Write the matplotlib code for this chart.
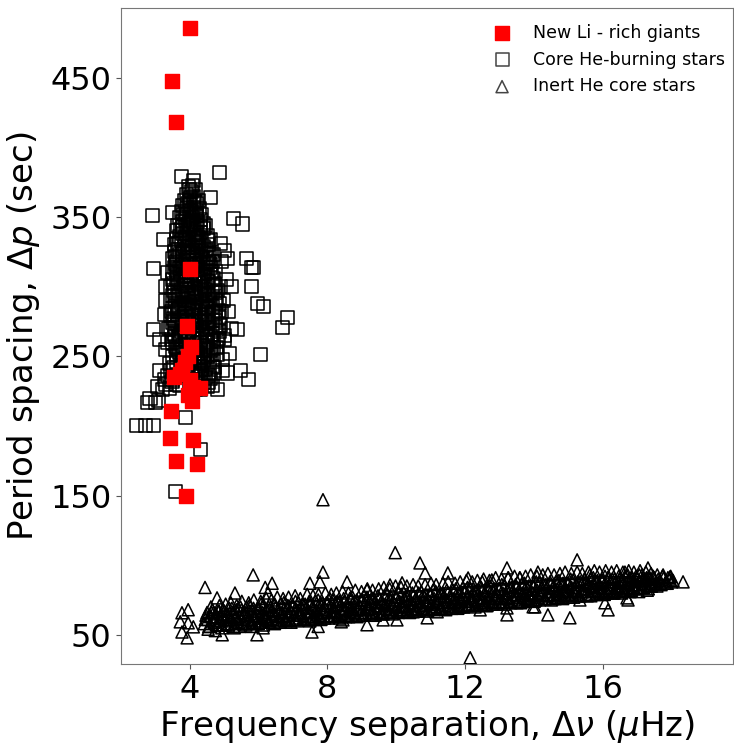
import matplotlib
matplotlib.use("Agg")
import matplotlib.pyplot as plt

# New Li-rich giants (red filled squares)
li_dnu = [4.0, 3.48, 3.6, 4.0, 3.92, 4.02, 3.95, 3.85, 3.78, 3.55, 4.1, 4.3,
          3.95, 4.05, 3.45, 3.42, 4.1, 3.6, 4.22, 3.9, 3.7, 4.0]
li_dp = [486, 448, 418, 313, 272, 257, 250, 246, 240, 235, 228, 227,
         222, 218, 211, 191, 190, 175, 173, 150, 237, 233]

# Core He-burning stars (hollow squares)
clump_dnu = [
    3.95, 4.05, 4.1, 3.9, 4.15, 4.0, 3.77, 4.85, 4.1, 4.2,
    3.8, 3.9, 4.0, 4.1, 4.2, 4.25, 3.85, 4.05,
    3.7, 3.8, 3.9, 4.0, 4.1, 4.2, 4.3, 4.4, 3.75, 3.95, 4.15, 4.35,
    3.6, 3.7, 3.8, 3.9, 4.0, 4.1, 4.2, 4.3, 4.4, 4.5, 3.65, 3.85, 4.05, 4.25, 4.45,
    3.55, 3.65, 3.75, 3.85, 3.95, 4.05, 4.15, 4.25, 4.35, 4.45, 4.55, 4.6, 3.6, 3.8, 4.0, 4.2, 4.4,
    3.5, 3.6, 3.7, 3.8, 3.9, 4.0, 4.1, 4.2, 4.3, 4.4, 4.5, 4.6, 4.7, 3.55, 3.75, 3.95, 4.15, 4.35, 4.55,
    3.5, 3.6, 3.7, 3.8, 3.9, 4.0, 4.1, 4.2, 4.3, 4.4, 4.5, 4.6, 4.7, 4.75, 3.55, 3.65, 3.85, 4.05, 4.25, 4.45,
    3.45, 3.55, 3.65, 3.75, 3.85, 3.95, 4.05, 4.15, 4.25, 4.35, 4.45, 4.55, 4.65, 4.75, 4.8, 3.5, 3.7, 3.9, 4.1, 4.3, 4.5,
    3.45, 3.55, 3.65, 3.75, 3.85, 3.95, 4.05, 4.15, 4.25, 4.35, 4.45, 4.55, 4.65, 4.75, 4.85, 3.5, 3.7, 3.9, 4.1, 4.3, 4.5,
    3.45, 3.55, 3.65, 3.75, 3.85, 3.95, 4.05, 4.15, 4.25, 4.35, 4.45, 4.55, 4.65, 4.75, 4.85, 3.5, 3.7, 3.9, 4.1, 4.3, 4.5,
    3.45, 3.55, 3.65, 3.75, 3.85, 3.95, 4.05, 4.15, 4.25, 4.35, 4.45, 4.55, 4.65, 4.75, 4.85, 3.5, 3.7, 3.9, 4.1, 4.3, 4.5,
    3.5, 3.6, 3.7, 3.8, 3.9, 4.0, 4.1, 4.2, 4.3, 4.4, 4.5, 4.6, 4.7, 4.8, 3.55, 3.75, 3.95, 4.15, 4.35, 4.55,
    3.5, 3.6, 3.7, 3.8, 3.9, 4.0, 4.1, 4.2, 4.3, 4.4, 4.5, 4.6, 4.7, 4.8, 4.25, 4.45, 3.65, 4.05,
    3.45, 3.6, 3.75, 3.9, 4.05, 4.15, 4.25, 4.35, 4.45, 4.55, 4.65, 4.7, 4.2, 4.4,
    3.3, 3.4, 3.5, 3.7, 4.2, 4.3, 4.4, 4.5, 4.6, 3.2, 3.6,
    # second pass through the dense core
    3.92, 4.02, 4.12, 3.98, 4.08,
    3.72, 3.82, 3.92, 4.02, 4.12, 4.22, 4.32, 3.88, 4.08, 4.28, 3.78, 4.18,
    3.58, 3.68, 3.78, 3.88, 3.98, 4.08, 4.18, 4.28, 4.38, 4.48, 4.58, 3.63, 3.93, 4.23, 4.53,
    3.52, 3.62, 3.72, 3.82, 3.92, 4.02, 4.12, 4.22, 4.32, 4.42, 4.52, 4.62, 4.72, 3.57, 3.87, 4.17, 4.47, 4.67,
    3.48, 3.58, 3.68, 3.78, 3.88, 3.98, 4.08, 4.18, 4.28, 4.38, 4.48, 4.58, 4.68, 4.78, 3.53, 3.83, 4.13, 4.43, 4.73, 4.83,
    3.48, 3.58, 3.68, 3.78, 3.88, 3.98, 4.08, 4.18, 4.28, 4.38, 4.48, 4.58, 4.68, 4.78, 3.53, 3.83, 4.13, 4.43, 4.73, 4.83,
    3.52, 3.62, 3.72, 3.82, 3.92, 4.02, 4.12, 4.22, 4.32, 4.42, 4.52, 4.62, 4.72, 3.57, 3.87, 4.17, 4.47, 4.77,
    3.35, 3.48, 4.25, 4.35, 4.45, 4.55, 4.65, 3.25, 4.15,
    # fringe on both sides of the core
    4.92, 5.05, 4.98, 5.12, 4.9, 5.02, 5.15, 4.95, 5.08, 4.88,
    5.0, 3.3, 3.25, 3.35, 3.28, 3.38, 3.4, 4.9, 4.93, 5.2,
    # scattered members
    2.9, 2.93, 2.93, 5.26, 5.52, 6.85, 6.7, 6.05, 5.84, 5.98, 6.13, 2.84, 2.7, 2.93,
    3.57, 5.7, 4.8, 3.86, 4.3, 3.05, 3.08, 3.5, 3.22, 4.6, 5.66, 5.8, 5.8, 5.37, 5.46,
    3.13, 3.13, 2.78, 2.99, 3.3, 5.1, 5.2, 5.0, 4.95, 2.45, 3.35,
]
clump_dp = [
    372, 368, 376, 366, 370, 362, 379, 382, 365, 360,
    358, 356, 359, 357, 355, 362, 362, 354,
    350, 347, 352, 349, 346, 351, 348, 345, 354, 345, 353, 352,
    340, 336, 343, 338, 341, 337, 344, 339, 342, 337, 344, 335, 345, 335, 344,
    330, 327, 333, 329, 334, 326, 331, 328, 333, 326, 330, 334, 334, 325, 330, 335, 329,
    320, 316, 323, 318, 321, 316, 324, 319, 322, 317, 321, 316, 323, 325, 315, 325, 315, 325, 318,
    310, 306, 313, 308, 311, 305, 314, 309, 312, 307, 310, 314, 306, 311, 314, 309, 305, 310, 306, 314,
    300, 296, 303, 298, 301, 296, 304, 299, 302, 297, 300, 304, 296, 301, 297, 305, 295, 305, 295, 305, 295,
    290, 286, 293, 288, 291, 286, 294, 289, 292, 287, 290, 294, 286, 291, 288, 294, 285, 295, 285, 295, 285,
    280, 276, 283, 278, 281, 276, 284, 279, 282, 277, 280, 284, 276, 281, 278, 284, 275, 285, 275, 285, 275,
    270, 266, 273, 268, 271, 266, 274, 269, 272, 267, 270, 274, 266, 271, 268, 274, 265, 275, 265, 275, 265,
    260, 256, 263, 258, 261, 256, 264, 259, 262, 257, 260, 264, 256, 261, 264, 255, 265, 255, 265, 255,
    250, 246, 253, 248, 251, 246, 254, 249, 252, 247, 250, 254, 246, 251, 245, 255, 255, 250,
    240, 236, 243, 238, 241, 236, 243, 238, 241, 236, 243, 238, 240, 245,
    230, 227, 233, 229, 232, 226, 231, 228, 234, 226, 230,
    360, 364, 361, 370, 373,
    341, 352, 344, 355, 342, 347, 343, 348, 350, 356, 338, 339,
    322, 331, 324, 333, 321, 328, 323, 332, 320, 327, 324, 319, 328, 326, 333,
    302, 311, 304, 313, 301, 308, 303, 312, 300, 309, 304, 311, 302, 317, 307, 316, 317, 318,
    282, 291, 284, 293, 281, 288, 283, 292, 280, 289, 284, 291, 282, 289, 297, 287, 296, 298, 296, 283,
    262, 271, 264, 273, 261, 268, 263, 272, 260, 269, 264, 271, 262, 269, 277, 267, 276, 278, 276, 263,
    242, 251, 244, 253, 241, 248, 243, 252, 240, 249, 244, 251, 242, 257, 247, 256, 258, 256,
    236, 232, 237, 229, 235, 231, 229, 233, 226,
    318, 305, 290, 282, 272, 262, 252, 248, 238, 331,
    326, 300, 280, 310, 255, 270, 245, 300, 282, 270,
    351, 313, 269, 349, 345, 278, 271, 251, 314, 288, 286, 220, 200, 200,
    153, 233, 226, 206, 183, 228, 218, 353, 334, 364, 320, 314, 300, 269, 240,
    240, 262, 217, 217, 290, 320, 300, 265, 240, 200, 260,
]

# Inert He core stars (hollow triangles)
rgb_dnu = [
    4.42, 4.47, 4.52, 4.58, 4.63, 4.68, 4.72, 4.77, 4.82, 4.88,
    4.92, 4.97, 5.02, 5.08, 5.13, 5.18, 5.22, 5.27, 5.33, 5.38,
    5.42, 5.47, 5.52, 5.57, 5.62, 5.68, 5.73, 5.78, 5.83, 5.88,
    5.92, 5.97, 6.02, 6.07, 6.12, 6.18, 6.23, 6.28, 6.33, 6.38,
    6.42, 6.47, 6.52, 6.57, 6.62, 6.68, 6.73, 6.78, 6.83, 6.88,
    6.92, 6.97, 7.02, 7.07, 7.12, 7.18, 7.23, 7.28, 7.33, 7.38,
    7.42, 7.47, 7.52, 7.57, 7.62, 7.68, 7.73, 7.78, 7.83, 7.88,
    7.92, 7.97, 8.02, 8.07, 8.12, 8.18, 8.23, 8.28, 8.33, 8.38,
    8.42, 8.47, 8.52, 8.57, 8.62, 8.68, 8.73, 8.78, 8.83, 8.88,
    8.92, 8.97, 9.02, 9.07, 9.12, 9.18, 9.23, 9.28, 9.33, 9.38,
    9.42, 9.47, 9.52, 9.57, 9.62, 9.68, 9.73, 9.78, 9.83, 9.88,
    9.92, 9.97, 10.02, 10.07, 10.12, 10.18, 10.23, 10.28, 10.33, 10.38,
    10.42, 10.47, 10.52, 10.57, 10.62, 10.68, 10.73, 10.78, 10.83, 10.88,
    10.92, 10.97, 11.02, 11.07, 11.12, 11.18, 11.23, 11.28, 11.33, 11.38,
    11.42, 11.47, 11.52, 11.57, 11.62, 11.68, 11.73, 11.78, 11.83, 11.88,
    11.92, 11.97, 12.02, 12.07, 12.12, 12.18, 12.23, 12.28, 12.33, 12.38,
    12.42, 12.47, 12.52, 12.57, 12.62, 12.68, 12.73, 12.78, 12.83, 12.88,
    12.92, 12.97, 13.02, 13.07, 13.12, 13.18, 13.23, 13.28, 13.33, 13.38,
    13.42, 13.47, 13.52, 13.57, 13.62, 13.68, 13.73, 13.78, 13.83, 13.88,
    13.92, 13.97, 14.02, 14.07, 14.12, 14.18, 14.23, 14.28, 14.33, 14.38,
    14.42, 14.47, 14.52, 14.57, 14.62, 14.68, 14.73, 14.78, 14.83, 14.88,
    14.92, 14.97, 15.02, 15.07, 15.12, 15.18, 15.23, 15.28, 15.33, 15.38,
    15.42, 15.47, 15.52, 15.57, 15.62, 15.68, 15.73, 15.78, 15.83, 15.88,
    15.92, 15.97, 16.02, 16.07, 16.12, 16.18, 16.23, 16.28, 16.33, 16.38,
    16.42, 16.47, 16.52, 16.57, 16.62, 16.68, 16.73, 16.78, 16.83, 16.88,
    16.92, 16.97, 17.02, 17.07, 17.12, 17.18, 17.23, 17.28, 17.33, 17.38,
    17.42, 17.47, 17.55, 17.62, 17.7, 17.78, 17.85, 17.95, 18.05,
    # second pass through the dense band
    4.45, 4.5, 4.55, 4.6, 4.65, 4.7, 4.75, 4.8, 4.85, 4.9,
    4.95, 5.0, 5.05, 5.1, 5.15, 5.2, 5.25, 5.3, 5.35, 5.4,
    5.45, 5.5, 5.55, 5.6, 5.65, 5.7, 5.75, 5.8, 5.85, 5.9,
    5.95, 6.0, 6.05, 6.1, 6.15, 6.2, 6.25, 6.3, 6.35, 6.4,
    6.45, 6.5, 6.55, 6.6, 6.65, 6.7, 6.75, 6.8, 6.85, 6.9,
    6.95, 7.0, 7.05, 7.1, 7.15, 7.2, 7.25, 7.3, 7.35, 7.4,
    7.45, 7.5, 7.55, 7.6, 7.65, 7.7, 7.75, 7.8, 7.85, 7.9,
    7.95, 8.0, 8.05, 8.1, 8.15, 8.2, 8.25, 8.3, 8.35, 8.4,
    8.45, 8.5, 8.55, 8.6, 8.65, 8.7, 8.75, 8.8, 8.85, 8.9,
    8.95, 9.0, 9.05, 9.1, 9.15, 9.2, 9.25, 9.3, 9.35, 9.4,
    9.45, 9.5, 9.55, 9.6, 9.65, 9.7, 9.75, 9.8, 9.85, 9.9,
    9.95, 10.0, 10.05, 10.1, 10.15, 10.2, 10.25, 10.3, 10.35, 10.4,
    10.45, 10.5, 10.55, 10.6, 10.65, 10.7, 10.75, 10.8, 10.85, 10.9,
    10.95, 11.0, 11.05, 11.1, 11.15, 11.2, 11.25, 11.3, 11.35, 11.4,
    11.45, 11.5, 11.55, 11.6, 11.65, 11.7, 11.75, 11.8, 11.85, 11.9,
    11.95, 12.0, 12.05, 12.1, 12.15, 12.2, 12.25, 12.3, 12.35, 12.4,
    12.45, 12.5, 12.55, 12.6, 12.65, 12.7, 12.75, 12.8, 12.85, 12.9,
    12.95, 13.0, 13.05, 13.1, 13.15, 13.2, 13.25, 13.3, 13.35, 13.4,
    13.45, 13.5, 13.55, 13.6, 13.65, 13.7, 13.75, 13.8, 13.85, 13.9,
    13.95, 14.0, 14.05, 14.1, 14.15, 14.2, 14.25, 14.3, 14.35, 14.4,
    14.45, 14.5, 14.55, 14.6, 14.65, 14.7, 14.75, 14.8, 14.85, 14.9,
    14.95, 15.0, 15.05, 15.1, 15.15, 15.2, 15.25, 15.3, 15.35, 15.4,
    15.45, 15.5, 15.55, 15.6, 15.65, 15.7, 15.75, 15.8, 15.85, 15.9,
    15.95, 16.0, 16.05, 16.1, 16.15, 16.2, 16.25, 16.3, 16.35, 16.4,
    16.45, 16.5, 16.55, 16.6, 16.65, 16.7, 16.75, 16.8, 16.85, 16.9,
    16.95, 17.0, 17.05, 17.1, 17.15, 17.2, 17.25, 17.3, 17.35, 17.4,
    17.45, 17.5, 17.58, 17.66, 17.74, 17.82, 17.9, 18.0,
    # outer edges of the band
    4.53, 4.61, 4.69, 4.74, 4.86, 4.93, 5.04, 5.11, 5.19, 5.29,
    5.36, 5.44, 5.51, 5.63, 5.71, 5.79, 5.86, 5.99, 6.06, 6.14,
    6.22, 6.31, 6.37, 6.46, 6.54, 6.63, 6.71, 6.79, 6.87, 6.94,
    7.06, 7.13, 7.21, 7.34, 7.41, 7.49, 7.58, 7.66, 7.74, 7.81,
    7.94, 8.03, 8.11, 8.19, 8.26, 8.36, 8.44, 8.53, 8.61, 8.69,
    8.81, 8.86, 8.99, 9.04, 9.16, 9.24, 9.31, 9.39, 9.49, 9.56,
    9.64, 9.74, 9.81, 9.89, 9.98, 10.06, 10.14, 10.21, 10.31, 10.39,
    10.49, 10.56, 10.64, 10.76, 10.84, 10.91, 11.01, 11.09, 11.16, 11.26,
    11.36, 11.44, 11.51, 11.63, 11.71, 11.79, 11.86, 11.96, 12.04, 12.11,
    12.21, 12.29, 12.36, 12.46, 12.54, 12.64, 12.71, 12.81, 12.89, 12.99,
    13.06, 13.14, 13.26, 13.31, 13.44, 13.51, 13.59, 13.66, 13.76, 13.84,
    13.91, 14.01, 14.09, 14.16, 14.26, 14.34, 14.41, 14.51, 14.59, 14.66,
    14.76, 14.84, 14.91, 15.01, 15.09, 15.16, 15.26, 15.34, 15.41, 15.51,
    15.59, 15.66, 15.76, 15.84, 15.91, 16.01, 16.09, 16.16, 16.26, 16.34,
    16.41, 16.51, 16.59, 16.66, 16.76, 16.84, 16.91, 17.01, 17.09, 17.16,
    17.26, 17.34, 17.41, 17.51, 17.59, 17.68, 17.76, 17.88, 17.98,
    # scattered members
    4.44, 5.84, 5.31, 4.79, 3.77, 3.95, 3.72, 3.95, 4.1, 3.77, 3.92, 4.94, 5.95,
    6.39, 6.19, 6.27, 7.87, 7.49, 7.78, 7.55, 7.73, 8.57, 8.4, 6.13, 7.87,
    9.97, 10.69, 10.84, 11.5, 9.15, 9.82, 10.17, 12.09, 12.5, 12.78, 13.22, 13.25,
    13.6, 14.12, 8.45, 9.15, 9.62, 10.02, 10.9, 11.19, 12.44, 13.22, 13.22, 13.98,
    12.15, 10.49, 11.85, 15.26, 15.63, 16.65, 17.32, 18.34, 17.96, 14.03, 14.41,
    15.05, 15.34, 16.07, 16.16, 16.71, 16.74, 14.7,
]
rgb_dp = [
    58, 64, 61, 56, 66, 60, 63, 57, 67, 62,
    57, 68, 61, 65, 58, 63, 69, 56, 62, 66,
    59, 70, 62, 66, 58, 64, 71, 60, 67, 63,
    58, 69, 63, 72, 60, 66, 62, 70, 59, 67,
    61, 72, 64, 68, 59, 66, 73, 62, 69, 65,
    60, 71, 64, 74, 62, 68, 65, 72, 61, 69,
    63, 74, 66, 70, 61, 68, 75, 64, 71, 67,
    62, 73, 66, 76, 64, 70, 67, 74, 63, 71,
    65, 76, 68, 72, 63, 70, 77, 66, 73, 69,
    64, 75, 68, 78, 66, 72, 69, 76, 65, 73,
    67, 78, 70, 74, 65, 72, 79, 68, 75, 71,
    66, 77, 70, 80, 68, 74, 71, 78, 67, 75,
    69, 80, 72, 76, 67, 74, 81, 70, 77, 73,
    68, 79, 72, 82, 70, 76, 73, 80, 69, 77,
    71, 82, 74, 78, 69, 76, 83, 72, 79, 75,
    70, 81, 74, 84, 72, 78, 75, 82, 71, 79,
    73, 84, 76, 80, 71, 78, 85, 74, 81, 77,
    72, 83, 76, 86, 74, 80, 77, 84, 73, 81,
    75, 86, 78, 82, 73, 80, 87, 76, 83, 79,
    75, 85, 79, 88, 77, 82, 80, 86, 76, 84,
    78, 88, 81, 85, 76, 83, 89, 79, 86, 82,
    78, 87, 81, 90, 79, 84, 82, 88, 78, 86,
    81, 90, 83, 87, 79, 85, 91, 82, 88, 84,
    80, 89, 83, 92, 81, 86, 84, 90, 80, 88,
    83, 92, 85, 89, 82, 87, 93, 84, 90, 86,
    83, 92, 86, 93, 84, 89, 87, 91, 83, 90,
    85, 92, 88, 90, 86, 91, 88, 90, 89,
    61, 66, 56, 63, 68, 59, 65, 57, 67, 60,
    62, 67, 57, 64, 69, 60, 66, 58, 68, 61,
    63, 68, 58, 65, 70, 61, 67, 59, 69, 62,
    64, 69, 59, 66, 71, 62, 68, 60, 70, 63,
    65, 70, 60, 67, 72, 63, 69, 61, 71, 64,
    66, 71, 61, 68, 73, 64, 70, 62, 72, 65,
    67, 72, 62, 69, 74, 65, 71, 63, 73, 66,
    68, 73, 63, 70, 75, 66, 72, 64, 74, 67,
    69, 74, 64, 71, 76, 67, 73, 65, 75, 68,
    70, 75, 65, 72, 77, 68, 74, 66, 76, 69,
    71, 76, 66, 73, 78, 69, 75, 67, 77, 70,
    72, 77, 67, 74, 79, 70, 76, 68, 78, 71,
    73, 78, 68, 75, 80, 71, 77, 69, 79, 72,
    74, 79, 69, 76, 81, 72, 78, 70, 80, 73,
    75, 80, 70, 77, 82, 73, 79, 71, 81, 74,
    76, 81, 71, 78, 83, 74, 80, 72, 82, 75,
    77, 82, 72, 79, 84, 75, 81, 73, 83, 76,
    78, 83, 73, 80, 85, 76, 82, 74, 84, 77,
    79, 84, 74, 81, 86, 77, 83, 75, 85, 78,
    80, 85, 75, 82, 87, 78, 84, 76, 86, 79,
    81, 86, 76, 83, 88, 79, 85, 77, 87, 80,
    82, 87, 77, 84, 89, 80, 86, 78, 88, 81,
    83, 88, 78, 85, 90, 81, 87, 79, 89, 82,
    84, 89, 79, 86, 91, 82, 88, 80, 90, 83,
    85, 90, 80, 87, 92, 83, 89, 81, 91, 84,
    86, 91, 81, 88, 93, 84, 90, 82, 92, 85,
    87, 91, 85, 89, 92, 87, 91, 88,
    54, 70, 66, 53, 71, 55, 72, 57, 73, 55,
    71, 56, 74, 57, 73, 56, 75, 58, 74, 57,
    76, 59, 75, 58, 77, 59, 76, 60, 77, 59,
    78, 60, 76, 61, 79, 60, 78, 62, 79, 61,
    80, 62, 79, 63, 80, 62, 81, 63, 80, 64,
    82, 63, 81, 64, 83, 65, 82, 64, 83, 65,
    84, 66, 83, 65, 85, 66, 84, 67, 85, 66,
    86, 67, 85, 68, 86, 67, 87, 68, 86, 69,
    87, 68, 88, 70, 87, 69, 88, 70, 89, 71,
    88, 70, 89, 72, 90, 71, 89, 72, 91, 73,
    90, 72, 91, 74, 92, 73, 91, 74, 92, 75,
    93, 74, 92, 75, 93, 76, 94, 75, 93, 77,
    94, 76, 95, 78, 94, 77, 95, 78, 94, 79,
    95, 78, 96, 80, 95, 79, 96, 80, 95, 81,
    96, 81, 95, 82, 96, 82, 95, 83, 96, 84,
    95, 85, 94, 86, 93, 87, 93, 87, 92,
    84, 93, 80, 76.5, 65.8, 68, 59.3, 58.6, 55.7, 52, 47.8, 50, 50,
    87, 84, 80, 95, 87, 88, 52, 56, 88, 59.3, 55, 147,
    109, 101.6, 94.4, 94.4, 82.2, 85.8, 87.3, 90.8, 88, 89.4, 98, 90.8,
    90.8, 95, 60.7, 57.2, 60.7, 60.7, 62.2, 66.5, 67.9, 64.3, 69.3, 70.1,
    33.5, 66.5, 70, 103.8, 93, 95, 98, 88, 91.6, 70, 64.3,
    62.2, 75, 73, 67.9, 76.5, 75, 76.5,
]

x_ticks = [4, 8, 12, 16]
y_ticks = [50, 150, 250, 350, 450]

fig = plt.figure(figsize=(7.34, 7.44), dpi=100)
ax = fig.add_axes([0.165, 0.1075, 0.834, 0.8815])

ax.scatter(rgb_dnu, rgb_dp, marker="^", s=75, facecolors="none",
           edgecolors="black", linewidths=1.1, label="Inert He core stars", zorder=2)
ax.scatter(clump_dnu, clump_dp, marker="s", s=88, facecolors="none",
           edgecolors="black", linewidths=1.1, label="Core He-burning stars", zorder=3)
ax.scatter(li_dnu, li_dp, marker="s", s=100, color="red",
           label="New Li - rich giants", zorder=4)

ax.set_xlim(2.0, 19.8)
ax.set_ylim(29, 500)
ax.set_xticks(x_ticks)
ax.set_yticks(y_ticks)
ax.tick_params(labelsize=23, color="#555555")
for sp in ax.spines.values():
    sp.set_color("#777777")

ax.set_xlabel(r"Frequency separation, $\Delta\nu$ ($\mu$Hz)", fontsize=24.5, labelpad=2)
ax.set_ylabel(r"Period spacing, $\Delta p$ (sec)", fontsize=24.5, labelpad=6)

handles, labels = ax.get_legend_handles_labels()
order = [2, 1, 0]
leg = ax.legend([handles[i] for i in order], [labels[i] for i in order],
                loc="upper right", bbox_to_anchor=(1.004, 0.992), frameon=False,
                fontsize=12.5, handletextpad=0.8, labelspacing=0.5, borderaxespad=0.2)
for h in leg.legend_handles[1:]:
    h.set_edgecolor("#444444")

fig.savefig("out.png", dpi=100)
